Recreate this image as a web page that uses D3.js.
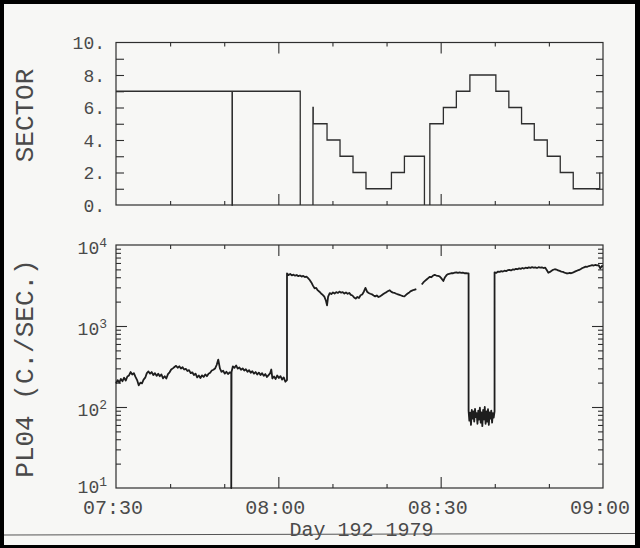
<!DOCTYPE html>
<html><head><meta charset="utf-8">
<script src="https://cdn.jsdelivr.net/npm/d3@7"></script>
<style>
html,body{margin:0;padding:0;background:#000;}
svg{display:block;}
</style></head><body>
<svg id="c" width="640" height="548"></svg>
<script>
// ---- data (time = minutes after 07:30, Day 192 1979) ----
const timeTickValues = [0, 30, 60, 90];
const timeTickLabels = ["07:30", "08:00", "08:30", "09:00"];
const timeMinorTicks = [10, 20, 40, 50, 70, 80];
const sectorTickValues = [0, 2, 4, 6, 8, 10];
const sectorTickLabels = ["0.", "2.", "4.", "6.", "8.", "10."];
const sectorMinorTicks = [1, 2, 3, 4, 5, 6, 7, 8, 9];
const rateDecades = [10, 100, 1000, 10000];
const rateExponents = ["1", "2", "3", "4"];
const rateMinorTicks = [20,30,40,50,60,70,80,90,200,300,400,500,600,700,800,900,2000,3000,4000,5000,6000,7000,8000,9000];

const sectorTime  = [0, 21.45, 21.5, 34.05, null, 36.4, 36.4, 36.45, 39.0, 41.4, 43.8, 46.2, 50.9, 53.3, 57.0, null,
                     58.0, 58.0, 60.5, 62.9, 65.4, 70.2, 72.6, 74.95, 77.3, 79.7, 82.1, 84.5, 89.4];
const sectorValue = [7, 0, 7, 0, null, 0, 6, 5, 4, 3, 2, 1, 2, 3, 0, null,
                     0, 5, 6, 7, 8, 7, 6, 5, 4, 3, 2, 1, 2];

const plTime = [
 0,0.3,0.6,0.9,1.2,1.5,1.8,2.1,2.4,2.7,
 3.0,3.3,3.6,3.9,4.2,4.5,4.8,5.1,5.4,5.7,
 6.0,6.3,6.6,6.9,7.2,7.5,7.8,8.1,8.4,8.7,
 9.0,9.3,9.6,9.9,10.2,10.5,10.8,11.1,11.4,11.7,
 12.0,12.3,12.6,12.9,13.2,13.5,13.8,14.1,14.4,14.7,
 15.0,15.3,15.6,15.9,16.2,16.5,16.8,17.1,17.4,17.7,
 18.0,18.3,18.6,18.9,19.2,19.5,19.8,20.1,20.4,20.7,
 21.0,21.3,21.3,21.35,21.6,21.9,22.2,22.5,22.8,23.1,
 23.4,23.7,24.0,24.3,24.6,24.9,25.2,25.5,25.8,26.1,
 26.4,26.7,27.0,27.3,27.6,27.9,28.2,28.5,28.7,28.9,
 29.2,29.5,29.8,30.1,30.4,30.7,31.0,31.3,31.6,31.6,
 31.9,32.2,32.5,32.8,33.1,33.4,33.7,34.0,34.3,34.6,
 34.9,35.2,35.5,35.8,36.1,36.4,36.7,37.0,37.3,37.6,
 37.9,38.2,38.5,38.8,39.0,39.2,39.5,39.8,40.1,40.4,
 40.7,41.0,41.3,41.6,41.9,42.2,42.5,42.8,43.1,43.4,
 43.7,44.0,44.3,44.6,44.9,45.2,45.5,45.8,46.1,46.4,
 46.7,47.0,47.3,47.6,47.9,48.2,48.5,48.8,49.1,49.4,
 49.7,50.0,50.3,50.6,50.9,51.2,51.5,51.8,52.1,52.4,
 52.7,53.0,53.3,53.6,53.9,54.2,54.5,54.8,55.1,55.5,
 null,
 56.5,56.8,57.1,57.4,57.7,58.0,58.3,58.6,58.9,59.2,
 59.5,59.8,60.1,60.5,60.8,61.1,61.4,61.7,62.0,62.3,
 62.6,62.9,63.2,63.5,63.8,64.1,64.4,64.7,65.0,65.16,
 65.16,65.3,65.45,65.6,65.75,65.9,66.05,66.2,66.35,66.5,
 66.65,66.8,66.95,67.1,67.25,67.4,67.55,67.7,67.85,68.0,
 68.15,68.3,68.45,68.6,68.75,68.9,69.05,69.2,69.35,69.5,
 69.65,69.8,69.96,69.96,
 70.3,70.6,70.9,71.2,71.5,71.8,72.1,72.4,72.7,73.0,
 73.3,73.6,73.9,74.2,74.5,74.8,75.1,75.4,75.7,76.0,
 76.3,76.6,76.9,77.2,77.5,77.8,78.1,78.4,78.7,79.0,
 79.3,79.6,79.9,80.2,80.5,80.8,81.1,81.4,81.7,82.0,
 82.3,82.6,82.9,83.2,83.5,83.8,84.1,84.4,84.7,85.0,
 85.3,85.6,85.9,86.2,86.5,86.8,87.1,87.4,87.7,88.0,
 88.3,88.6,88.9,89.2,89.5,89.8,90.0
];
const plRate = [
 195,215,200,222,208,230,212,238,245,270,
 252,262,235,215,185,200,196,218,230,262,
 275,258,270,248,262,242,258,240,252,226,
 240,225,255,268,290,300,312,322,305,318,
 298,310,290,296,278,285,262,268,248,258,
 232,245,228,246,235,252,240,258,265,282,
 288,298,330,385,300,272,280,258,272,255,
 268,262,10,270,318,305,325,298,308,288,
 300,282,292,272,285,265,276,258,270,252,
 266,248,262,242,255,235,248,262,290,225,
 238,222,245,228,240,218,232,205,215,4450,
 4250,4380,4220,4300,4180,4260,4120,4200,4080,4150,
 4020,4080,3900,3700,3450,3150,2920,2950,2750,2650,
 2520,2420,2300,2050,1800,2300,2550,2480,2600,2520,
 2620,2560,2660,2580,2620,2520,2600,2500,2560,2420,
 2380,2250,2180,2280,2220,2400,2450,2650,2950,2650,
 2560,2500,2460,2380,2320,2380,2280,2320,2400,2480,
 2560,2620,2700,2760,2640,2580,2560,2500,2460,2420,
 2380,2340,2320,2420,2520,2600,2700,2750,2800,2860,
 null,
 3250,3450,3600,3750,3900,4050,4000,4200,4280,4200,
 4150,4100,3900,3600,4000,4250,4380,4420,4500,4480,
 4560,4600,4520,4580,4520,4560,4480,4500,4460,4470,
 90,68,85,60,92,72,88,66,95,75,
 84,62,90,70,98,64,86,58,92,70,
 100,62,88,66,94,60,86,72,90,64,
 84,74,88,4600,
 4520,4700,4650,4750,4700,4820,4760,4880,4920,4850,
 5000,4950,5080,5020,5150,5080,5200,5120,5250,5180,
 5300,5220,5320,5240,5300,5200,5320,5250,5300,5200,
 5260,4900,4550,4650,4800,4950,5020,4980,4850,4780,
 4700,4650,4550,4480,4450,4520,4480,4560,4650,4750,
 4850,4920,5050,5200,5300,5400,5380,5500,5550,5650,
 5580,5680,5600,5620,5150,5500,5450
];

// ---- drawing ----
const svg = d3.select("#c");
const ink = "#2e2e2e";
const textInk = "#4a4a4a";
const font = "'Liberation Mono', 'DejaVu Sans Mono', monospace";

svg.append("rect").attr("x", 4).attr("y", 4).attr("width", 631).attr("height", 541).attr("fill", "#f7f7f5");

const L = 116, R = 603;
const topT = 42.5, topB = 205, botT = 245, botB = 488;
const x = d3.scaleLinear().domain([0, 90]).range([L, R]);
const ySec = d3.scaleLinear().domain([0, 10]).range([topB, topT]);
const yRate = d3.scaleLog().domain([10, 10000]).range([botB, botT]);

function frame(t, b) {
  svg.append("rect").attr("x", L).attr("y", t).attr("width", R - L).attr("height", b - t)
    .attr("fill", "none").attr("stroke", ink).attr("stroke-width", 1.2);
}
function ticks(axisFn, scale, vals, size, tx, ty) {
  const g = svg.append("g").attr("transform", `translate(${tx},${ty})`)
    .call(axisFn(scale).tickValues(vals).tickSize(size).tickFormat(""));
  g.select(".domain").remove();
  g.selectAll("line").attr("stroke", ink).attr("stroke-width", 1.1);
  return g;
}

// top panel
frame(topT, topB);
ticks(d3.axisTop, x, timeMinorTicks, -4, 0, topT);
ticks(d3.axisTop, x, [30, 60], -11, 0, topT);
ticks(d3.axisBottom, x, timeMinorTicks, -4, 0, topB);
ticks(d3.axisBottom, x, [30, 60], -11, 0, topB);
ticks(d3.axisLeft, ySec, sectorMinorTicks, -8, L, 0);
ticks(d3.axisRight, ySec, sectorMinorTicks, -7, R, 0);

const secLab = svg.append("g").attr("transform", `translate(${L},0)`)
  .call(d3.axisLeft(ySec).tickValues(sectorTickValues).tickSize(0).tickPadding(11)
    .tickFormat((d, i) => sectorTickLabels[i]));
secLab.select(".domain").remove();
secLab.selectAll("text").attr("font-family", font).attr("font-size", 18).attr("fill", textInk).attr("dy", "0.36em");

const secData = sectorTime.map((t, i) => ({ t, v: sectorValue[i] }));
svg.append("path").datum(secData)
  .attr("d", d3.line().defined(d => d.t !== null && d.v !== null)
    .x(d => x(d.t)).y(d => ySec(d.v)).curve(d3.curveStepAfter))
  .attr("fill", "none").attr("stroke", ink).attr("stroke-width", 1.3);

// bottom panel
frame(botT, botB);
ticks(d3.axisTop, x, timeMinorTicks, -4, 0, botT);
ticks(d3.axisTop, x, [30, 60], -11, 0, botT);
ticks(d3.axisBottom, x, timeMinorTicks, -4, 0, botB);
ticks(d3.axisBottom, x, [30, 60], -11, 0, botB);
ticks(d3.axisLeft, yRate, rateMinorTicks, -5, L, 0);
ticks(d3.axisLeft, yRate, [100, 1000], -11, L, 0);
ticks(d3.axisRight, yRate, rateMinorTicks, -5, R, 0);
ticks(d3.axisRight, yRate, [100, 1000], -11, R, 0);

rateDecades.forEach((d, i) => {
  const t = svg.append("text").attr("x", 107).attr("y", yRate(d) + (i === 0 ? 5 : 9))
    .attr("text-anchor", "end").attr("font-family", font).attr("fill", textInk).attr("font-size", 18);
  t.append("tspan").text("10");
  t.append("tspan").attr("font-size", 13).attr("dy", -7).text(rateExponents[i]);
});

const xLab = svg.append("g").attr("transform", `translate(0,${botB})`)
  .call(d3.axisBottom(x).tickValues(timeTickValues).tickSize(0).tickPadding(12)
    .tickFormat((d, i) => timeTickLabels[i]));
xLab.select(".domain").remove();
xLab.selectAll("text").attr("font-family", font).attr("font-size", 20).attr("fill", textInk).attr("dx", -3.5);

const plData = plTime.map((t, i) => ({ t, v: plRate[i] }));
svg.append("path").datum(plData)
  .attr("d", d3.line().defined(d => d.t !== null && d.v !== null)
    .x(d => x(d.t)).y(d => yRate(d.v)))
  .attr("fill", "none").attr("stroke", "#1e1e1e").attr("stroke-width", 1.8).attr("stroke-linejoin", "round");

// axis titles
svg.append("text").attr("transform", "translate(33,115.5) rotate(-90)")
  .attr("text-anchor", "middle").attr("font-family", font).attr("font-size", 26).attr("fill", textInk).text("SECTOR");
svg.append("text").attr("transform", "translate(33,368.5) rotate(-90)")
  .attr("text-anchor", "middle").attr("font-family", font).attr("font-size", 26).attr("fill", textInk).text("PL04 (C./SEC.)");
svg.append("text").attr("x", 361.5).attr("y", 536)
  .attr("text-anchor", "middle").attr("font-family", font).attr("font-size", 20).attr("fill", textInk).text("Day 192 1979");

// scan line across the bottom of the sheet
svg.append("line").attr("x1", 4).attr("y1", 535).attr("x2", 635).attr("y2", 533.5)
  .attr("stroke", "#555").attr("stroke-width", 1);
</script>
</body></html>
